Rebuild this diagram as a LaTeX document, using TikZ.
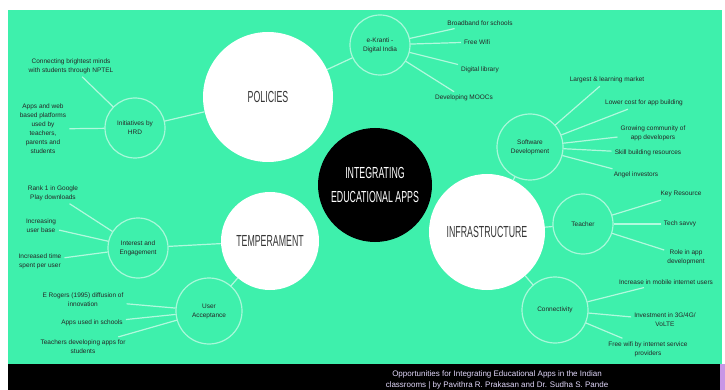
\documentclass[tikz,border=0pt]{standalone}
\usepackage{fontspec}
\setmainfont{Liberation Sans}
\newfontfamily\condfont[FakeStretch=0.55]{Liberation Sans}
\definecolor{mapgreen}{RGB}{62,240,172}
\definecolor{labelgray}{RGB}{55,55,55}
\definecolor{footlilac}{RGB}{225,215,250}
\definecolor{edgelilac}{RGB}{200,150,230}

\begin{document}
\begin{tikzpicture}[x=1pt, y=-1pt,
    hub/.style={circle, fill=black, text=white, minimum size=114pt, inner sep=0pt,
        align=center, font=\condfont\fontsize{16}{24}\selectfont},
    topic/.style={circle, fill=white, text=labelgray, inner sep=0pt,
        font=\condfont\fontsize{16}{18}\selectfont},
    branch/.style={circle, draw=white, draw opacity=0.55, line width=1.2pt,
        inner sep=0pt, align=center, text=black!85, font=\fontsize{6.5}{9}\selectfont},
    leaf/.style={align=center, inner sep=3pt, text=black!85,
        font=\fontsize{6.5}{9}\selectfont},
    link/.style={draw=white, draw opacity=0.6, line width=1.2pt}]
    \useasboundingbox (0,0) rectangle (725,390);

    % Background and footer band
    \fill[white] (0,0) rectangle (725,390);
    \fill[mapgreen] (8,10) rectangle (722,364);
    \fill[black] (8,364) rectangle (720,390);
    \fill[edgelilac] (720,364) rectangle (725,390);

    % Centre and the three topics
    \node[hub] (apps) at (375,185) {INTEGRATING\\EDUCATIONAL APPS};
    \node[topic, minimum size=130pt] (policies) at (268,97) {POLICIES};
    \node[topic, minimum size=98pt] (temper) at (270,241) {TEMPERAMENT};
    \node[topic, minimum size=116pt] (infra) at (487,232) {INFRASTRUCTURE};

    % Branch circles
    \node[branch, minimum size=60pt] (ekranti) at (380,45) {e-Kranti -\\Digital India};
    \node[branch, minimum size=60pt] (hrd) at (135,128) {Initiatives by\\HRD};
    \node[branch, minimum size=66pt] (software) at (530,147) {Software\\Development};
    \node[branch, minimum size=60pt] (teacher) at (583,224) {Teacher};
    \node[branch, minimum size=66pt] (connect) at (555,310) {Connectivity};
    \node[branch, minimum size=60pt] (interest) at (138,248) {Interest and\\Engagement};
    \node[branch, minimum size=66pt] (useracc) at (209,311) {User\\Acceptance};

    % Leaves of Policies
    \node[leaf] (nptel) at (71,66) {Connecting brightest minds\\with students through NPTEL};
    \node[leaf] (webapps) at (43,129) {Apps and web\\based platforms\\used by\\teachers,\\parents and\\students};
    \node[leaf] (broadband) at (480,23) {Broadband for schools};
    \node[leaf] (wifi) at (477,42) {Free Wifi};
    \node[leaf] (library) at (480,70) {Digital library};
    \node[leaf] (moocs) at (464,98) {Developing MOOCs};

    % Leaves of Infrastructure
    \node[leaf] (market) at (607,80) {Largest \& learning market};
    \node[leaf] (lowcost) at (644,103) {Lower cost for app building};
    \node[leaf] (community) at (653,133) {Growing community of\\app developers};
    \node[leaf] (skill) at (648,153) {Skill building resources};
    \node[leaf] (angel) at (636,175) {Angel investors};
    \node[leaf] (keyres) at (681,194) {Key Resource};
    \node[leaf] (savvy) at (680,224) {Tech savvy};
    \node[leaf] (role) at (686,257) {Role in app\\development};
    \node[leaf] (mobile) at (666,282) {Increase in mobile internet users};
    \node[leaf] (invest) at (665,320) {Investment in 3G/4G/\\VoLTE};
    \node[leaf] (isp) at (648,349) {Free wifi by internet service\\providers};

    % Leaves of Temperament
    \node[leaf] (rank) at (53,193) {Rank 1 in Google\\Play downloads};
    \node[leaf] (userbase) at (41,226) {Increasing\\user base};
    \node[leaf] (timespent) at (40,261) {Increased time\\spent per user};
    \node[leaf] (rogers) at (83,300) {E Rogers (1995) diffusion of\\innovation};
    \node[leaf] (schools) at (92,323) {Apps used in schools};
    \node[leaf] (devapps) at (83,347) {Teachers developing apps for\\students};

    % Topic to branch links
    \draw[link] (policies) -- (hrd);
    \draw[link] (policies) -- (ekranti);
    \draw[link] (temper) -- (interest);
    \draw[link] (temper) -- (useracc);
    \draw[link] (infra) -- (software);
    \draw[link] (infra) -- (teacher);
    \draw[link] (infra) -- (connect);

    % Branch to leaf links
    \foreach \a/\b in {hrd/nptel, hrd/webapps,
        ekranti/broadband, ekranti/wifi, ekranti/library, ekranti/moocs,
        software/market, software/lowcost, software/community, software/skill, software/angel,
        teacher/keyres, teacher/savvy, teacher/role,
        connect/mobile, connect/invest, connect/isp,
        interest/rank, interest/userbase, interest/timespent,
        useracc/rogers, useracc/schools, useracc/devapps}
        \draw[link] (\a) -- (\b);

    % Footer
    \node[text=footlilac, align=center, inner sep=0pt, font=\fontsize{8}{10.5}\selectfont] (footer) at (497,380)
        {Opportunities for Integrating Educational Apps in the Indian\\classrooms | by Pavithra R. Prakasan and Dr. Sudha S. Pande};
\end{tikzpicture}
\end{document}
